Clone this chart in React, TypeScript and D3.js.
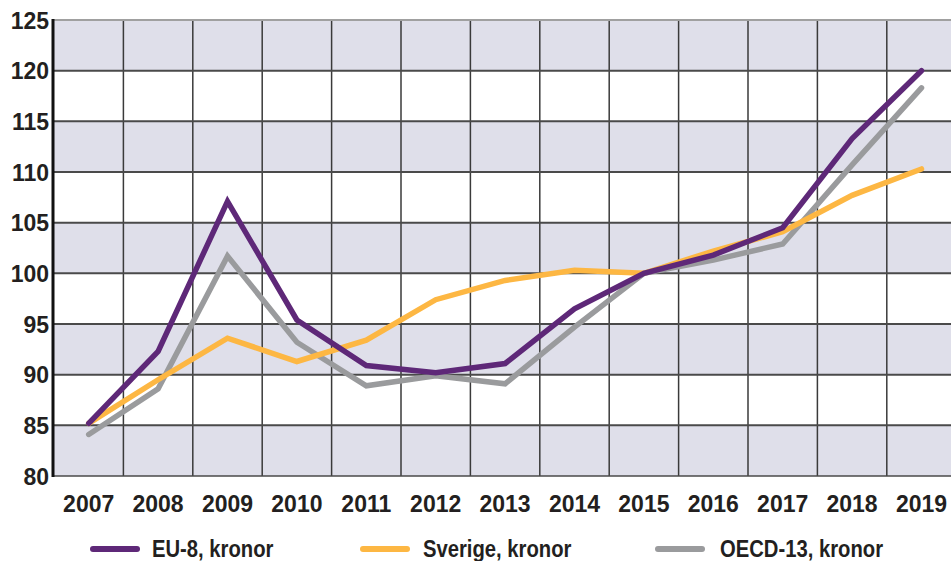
import React from "react";
import * as d3 from "d3";

const years = ["2007", "2008", "2009", "2010", "2011", "2012", "2013", "2014", "2015", "2016", "2017", "2018", "2019"];
const eu8 = [85.2, 92.3, 107.1, 95.4, 90.9, 90.2, 91.1, 96.5, 100.0, 101.8, 104.5, 113.3, 120.0];
const sverige = [85.2, 89.5, 93.6, 91.3, 93.4, 97.4, 99.3, 100.3, 100.0, 102.2, 104.1, 107.7, 110.3];
const oecd13 = [84.1, 88.6, 101.7, 93.2, 88.9, 89.9, 89.1, 94.7, 100.0, 101.3, 102.9, 110.7, 118.3];
const yTicks = [80, 85, 90, 95, 100, 105, 110, 115, 120, 125];

type Serie = { namn: string, varden: number[], farg: string };
const serier: Serie[] = [
    {namn: "EU-8, kronor", varden: eu8, farg: "#5e2878"},
    {namn: "Sverige, kronor", varden: sverige, farg: "#fdb743"},
    {namn: "OECD-13, kronor", varden: oecd13, farg: "#9a9b9d"},
];
// legend x positions (line start, text start)
const legendPos = [[90, 152], [360, 423], [655, 720]];

const W = 951, H = 561;
const margem = {left: 54, top: 20, bottom: 476};
const font = "'Liberation Sans', Arial, sans-serif";

export default function App() {
    const x = d3.scaleBand<string>()
        .domain(years)
        .range([margem.left, margem.left + 69.4 * years.length]);
    const y = d3.scaleLinear().domain([80, 125]).range([margem.bottom, margem.top]);
    const cx = (i: number) => (x(years[i]) ?? 0) + x.bandwidth() / 2;

    const line = d3.line<number>()
        .x((_, i) => cx(i))
        .y(d => y(d));

    const bands = yTicks.slice(0, -1).filter((_, i) => i % 2 === 0);

    return (
        <svg width={W} height={H} style={{position: "absolute", left: 0, top: 0, background: "#fff"}}>
            {/* shaded bands */}
            {bands.map(v => (
                <rect key={"b" + v} x={margem.left} width={W - margem.left}
                      y={y(v + 5)} height={y(v) - y(v + 5)} fill="#dfdfea"/>
            ))}
            {/* vertical grid */}
            {years.slice(1).map(yr => (
                <line key={"v" + yr} x1={x(yr)} x2={x(yr)} y1={margem.top} y2={margem.bottom}
                      stroke="#3a3a3a" strokeWidth={1.5}/>
            ))}
            {/* horizontal grid */}
            {yTicks.map(v => (
                <line key={"h" + v} x1={margem.left} x2={W} y1={y(v)} y2={y(v)}
                      stroke={v === 125 ? "#a0a0a0" : "#4a4a4a"} strokeWidth={v === 80 ? 1.5 : 2}/>
            ))}
            <line x1={margem.left - 1} x2={margem.left - 1} y1={margem.top - 1} y2={margem.bottom + 1}
                  stroke="#111" strokeWidth={3}/>
            {/* y labels */}
            {yTicks.map(v => (
                <text key={"yl" + v} x={49} y={y(v) + 8.5} textAnchor="end" fontFamily={font}
                      fontWeight="bold" fontSize={23} fill="#231f20">{v}</text>
            ))}
            {/* x labels */}
            {years.map((yr, i) => (
                <text key={"xl" + yr} x={cx(i)} y={512} textAnchor="middle" fontFamily={font}
                      fontWeight="bold" fontSize={23} fill="#231f20">{yr}</text>
            ))}
            {/* lines */}
            {[serier[2], serier[1], serier[0]].map(s => (
                <path key={s.namn} d={line(s.varden) ?? ""} fill="none" stroke={s.farg}
                      strokeWidth={5.5} strokeLinejoin="miter" strokeLinecap="round"/>
            ))}
            {/* legend */}
            {serier.map((s, i) => (
                <g key={"lg" + s.namn}>
                    <line x1={legendPos[i][0] + 3} x2={legendPos[i][0] + 47} y1={549} y2={549}
                          stroke={s.farg} strokeWidth={6} strokeLinecap="round"/>
                    <text transform={`translate(${legendPos[i][1]},557) scale(0.88,1)`} fontFamily={font}
                          fontWeight="bold" fontSize={23} fill="#231f20">{s.namn}</text>
                </g>
            ))}
        </svg>
    );
}
